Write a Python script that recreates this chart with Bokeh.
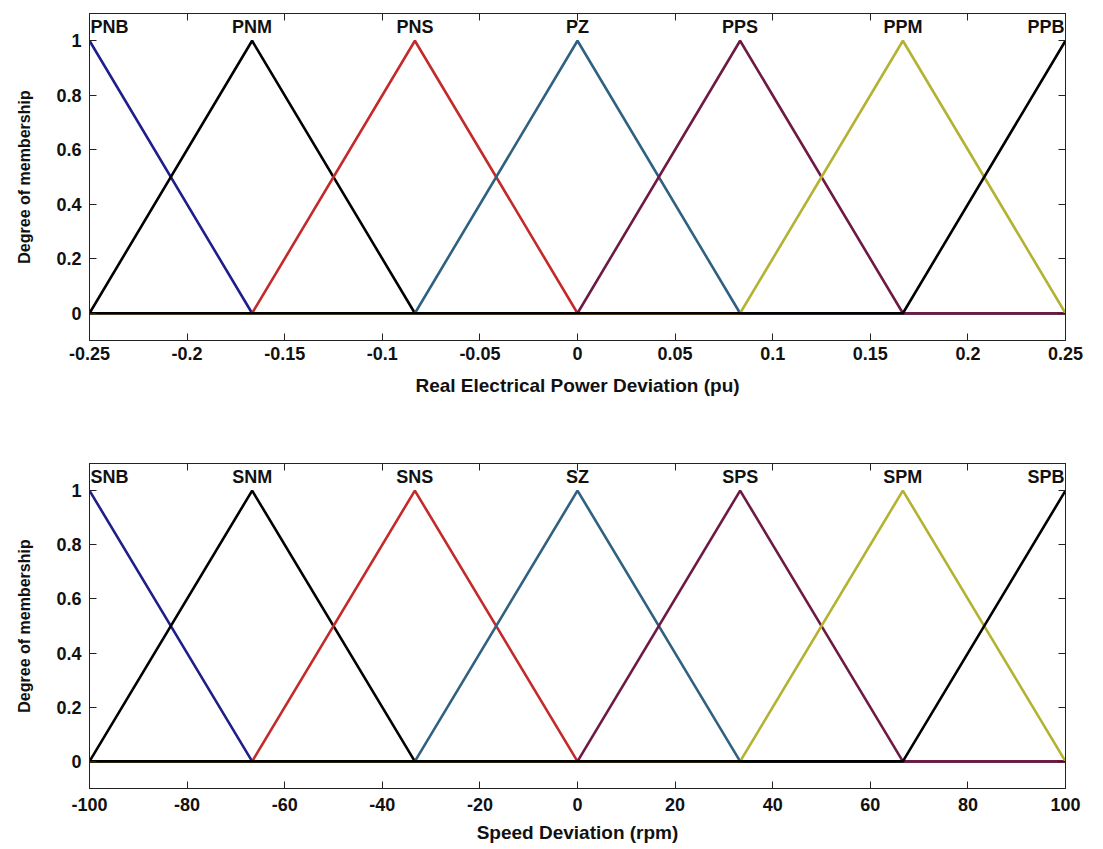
from bokeh.plotting import figure
from bokeh.layouts import column
from bokeh.models import LinearAxis, FixedTicker, Range1d, ColumnDataSource, LabelSet
from bokeh.embed import file_html
from bokeh.resources import INLINE
from bokeh.core.properties import value

# ---------------- data ----------------
p_names = ["PNB", "PNM", "PNS", "PZ", "PPS", "PPM", "PPB"]
p_left = [-0.3333, -0.25, -0.1667, -0.0833, 0.0, 0.0833, 0.1667]
p_peak = [-0.25, -0.1667, -0.0833, 0.0, 0.0833, 0.1667, 0.25]
p_right = [-0.1667, -0.0833, 0.0, 0.0833, 0.1667, 0.25, 0.3333]
p_range = [-0.25, 0.25]
p_xticks = [-0.25, -0.2, -0.15, -0.1, -0.05, 0, 0.05, 0.1, 0.15, 0.2, 0.25]
p_xtick_labels = ["-0.25", "-0.2", "-0.15", "-0.1", "-0.05", "0", "0.05", "0.1", "0.15", "0.2", "0.25"]
p_title = "Real Electrical Power Deviation (pu)"

s_names = ["SNB", "SNM", "SNS", "SZ", "SPS", "SPM", "SPB"]
s_left = [-133.33, -100, -66.67, -33.33, 0, 33.33, 66.67]
s_peak = [-100, -66.67, -33.33, 0, 33.33, 66.67, 100]
s_right = [-66.67, -33.33, 0, 33.33, 66.67, 100, 133.33]
s_range = [-100, 100]
s_xticks = [-100, -80, -60, -40, -20, 0, 20, 40, 60, 80, 100]
s_xtick_labels = ["-100", "-80", "-60", "-40", "-20", "0", "20", "40", "60", "80", "100"]
s_title = "Speed Deviation (rpm)"

yticks = [0, 0.2, 0.4, 0.6, 0.8, 1]
ytick_labels = ["0", "0.2", "0.4", "0.6", "0.8", "1"]
y_title = "Degree of membership"

mf_colors = ["#1f1f8c", "#000000", "#c42a2a", "#2f6282", "#6e1a42", "#b4b232", "#000000"]

FONT = "Liberation Sans"


def tri(x, a, b, c):
    if x <= a or x >= c:
        return 1.0 if x == b else 0.0
    if x <= b:
        return (x - a) / (b - a)
    return (c - x) / (c - b)


def make_panel(names, left, peak, right, xr, xticks, xlabels, title,
               h, bl, br, bt, bb, lab_standoff, title_standoff):
    p = figure(width=1103, height=h, output_backend="svg", toolbar_location=None,
               x_range=Range1d(xr[0], xr[1]), y_range=Range1d(-0.1, 1.1),
               min_border_left=bl, min_border_right=br, min_border_top=bt,
               min_border_bottom=bb, x_axis_location=None, y_axis_location=None)
    p.grid.visible = False
    p.outline_line_color = "#222222"
    p.outline_line_width = 1
    p.background_fill_color = "white"
    p.border_fill_color = "white"

    xmin, xmax = xr
    for i in range(len(names)):
        a, b, c = left[i], peak[i], right[i]
        pts = [xmin, a, b, c, xmax]
        pts = sorted(set(v for v in pts if xmin <= v <= xmax))
        ys = [tri(v, a, b, c) for v in pts]
        p.line(pts, ys, line_color=mf_colors[i], line_width=2.6)

    common = dict(text_font=value(FONT), text_font_style="bold", text_font_size="18px",
                  text_color="#111111", text_baseline="middle")
    mid = list(range(1, len(names) - 1))
    src_mid = ColumnDataSource(dict(x=[peak[i] for i in mid], y=[1.05] * len(mid),
                                    t=[names[i] for i in mid]))
    p.add_layout(LabelSet(x="x", y="y", text="t", source=src_mid, text_align="center", **common))
    src_first = ColumnDataSource(dict(x=[peak[0]], y=[1.05], t=[names[0]]))
    p.add_layout(LabelSet(x="x", y="y", text="t", source=src_first, text_align="left",
                          x_offset=1, **common))
    src_last = ColumnDataSource(dict(x=[peak[-1]], y=[1.05], t=[names[-1]]))
    p.add_layout(LabelSet(x="x", y="y", text="t", source=src_last, text_align="right",
                          x_offset=-1, **common))

    def style(ax):
        ax.major_tick_in = 7
        ax.major_tick_out = 0
        ax.minor_tick_line_color = None
        ax.axis_line_color = "#222222"
        ax.major_tick_line_color = "#222222"
        ax.major_label_text_font = FONT
        ax.major_label_text_font_style = "bold"
        ax.major_label_text_font_size = "18px"
        ax.major_label_text_color = "#111111"
        ax.axis_label_text_font = FONT
        ax.axis_label_text_font_style = "bold"
        ax.axis_label_text_font_size = "19px"
        ax.axis_label_text_color = "#111111"

    xb = LinearAxis(ticker=FixedTicker(ticks=xticks),
                    major_label_overrides={t: l for t, l in zip(xticks, xlabels)},
                    axis_label=title)
    style(xb)
    xb.major_label_standoff = lab_standoff
    xb.axis_label_standoff = title_standoff
    p.add_layout(xb, "below")

    yl = LinearAxis(ticker=FixedTicker(ticks=yticks),
                    major_label_overrides={t: l for t, l in zip(yticks, ytick_labels)},
                    axis_label=y_title)
    style(yl)
    yl.major_label_standoff = 8
    yl.axis_label_standoff = 20
    yl.axis_label_text_font_size = "16px"
    p.add_layout(yl, "left")

    xt = LinearAxis(ticker=FixedTicker(ticks=xticks),
                    major_label_overrides={t: "" for t in xticks})
    style(xt)
    xt.major_label_standoff = 0
    p.add_layout(xt, "above")

    yr = LinearAxis(ticker=FixedTicker(ticks=yticks),
                    major_label_overrides={t: "" for t in yticks})
    style(yr)
    yr.major_label_standoff = 0
    p.add_layout(yr, "right")
    return p


p1 = make_panel(p_names, p_left, p_peak, p_right, p_range, p_xticks, p_xtick_labels, p_title,
                430, 87, 38, 13, 90, 6, 12)
p2 = make_panel(s_names, s_left, s_peak, s_right, s_range, s_xticks, s_xtick_labels, s_title,
                419, 89, 33, 33, 61, 9, 8)

layout = column(p1, p2, spacing=0)
open("out.html", "w").write(file_html(layout, INLINE))
